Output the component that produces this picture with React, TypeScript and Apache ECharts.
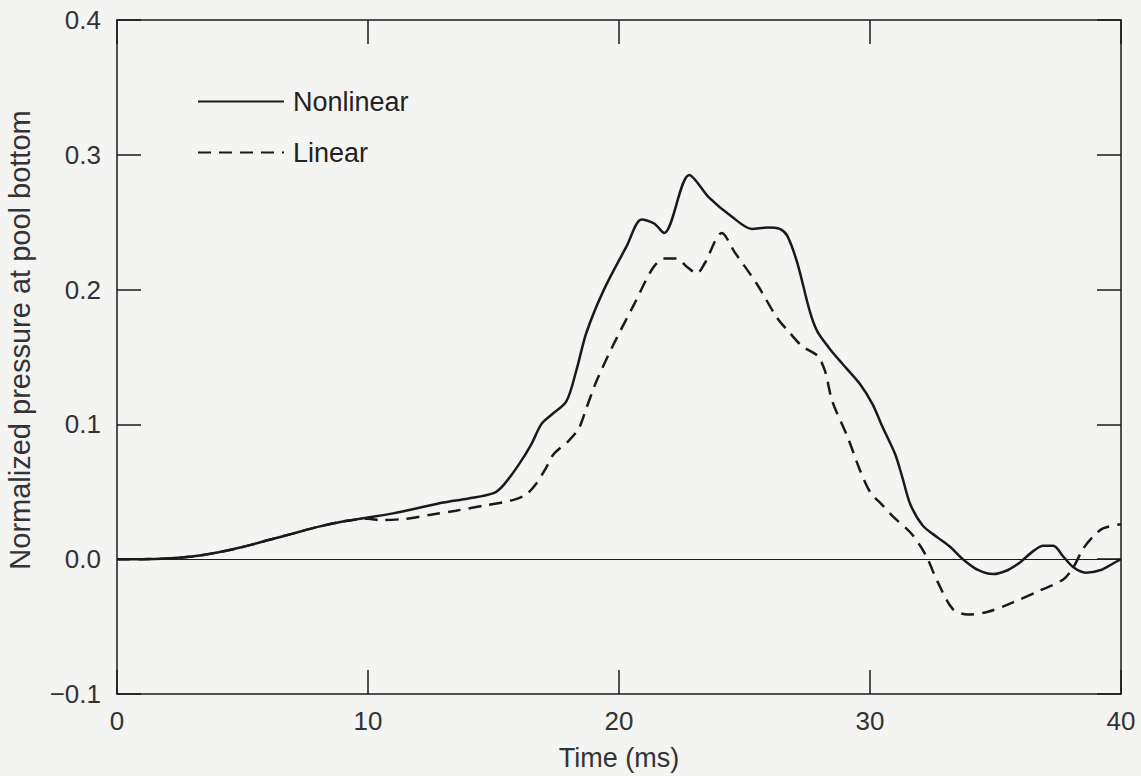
import React, { useEffect, useRef } from "react";
import * as echarts from "echarts";

const nonlinearT = [0, 1, 2, 3, 4, 5, 6, 7, 8, 9, 10, 11, 12, 13, 14, 15, 15.4, 16, 16.5, 16.9, 17.3, 17.9, 18.3, 18.7, 19.4, 20.3, 20.9, 21.4, 21.8, 22.8, 23.6, 24.5, 25.3, 25.9, 26.4, 26.7, 27.1, 27.6, 27.9, 28.4, 28.9, 29.6, 30.1, 30.5, 31.0, 31.3, 31.6, 32.1, 32.7, 33.2, 33.7, 34.3, 34.9, 35.5, 36.0, 36.5, 36.9, 37.3, 37.7, 38.1, 38.6, 39.2, 39.7, 40];
const nonlinearV = [0, 0, 0.0005, 0.002, 0.005, 0.009, 0.014, 0.019, 0.024, 0.028, 0.031, 0.034, 0.038, 0.042, 0.045, 0.049, 0.055, 0.07, 0.085, 0.1, 0.107, 0.117, 0.14, 0.168, 0.2, 0.232, 0.252, 0.249, 0.242, 0.285, 0.268, 0.254, 0.245, 0.246, 0.245, 0.24, 0.22, 0.184, 0.169, 0.156, 0.145, 0.13, 0.115, 0.098, 0.078, 0.06, 0.041, 0.025, 0.016, 0.009, 0.0, -0.008, -0.011, -0.008, -0.002, 0.006, 0.01, 0.01, 0.002, -0.006, -0.01, -0.008, -0.003, 0.0];

const linearT = [0, 1, 2, 3, 4, 5, 6, 7, 8, 9, 10, 10.5, 11.5, 12.5, 13.5, 14.7, 15.8, 16.3, 16.7, 17.1, 17.4, 18.0, 18.4, 18.7, 19.1, 19.8, 20.6, 21.35, 21.8, 22.3, 22.7, 23.1, 23.4, 24.1, 24.6, 25.5, 26.3, 26.8, 27.3, 27.9, 28.2, 28.5, 29.1, 29.6, 30.0, 30.5, 30.9, 31.6, 32.0, 32.3, 32.7, 33.3, 33.9, 34.7, 35.7, 36.8, 37.7, 38.1, 38.5, 38.9, 39.3, 40];
const linearV = [0, 0, 0.0005, 0.002, 0.005, 0.009, 0.014, 0.019, 0.024, 0.028, 0.03, 0.029, 0.03, 0.033, 0.036, 0.04, 0.044, 0.048, 0.056, 0.068, 0.078, 0.088, 0.097, 0.112, 0.132, 0.16, 0.189, 0.216, 0.223, 0.223, 0.217, 0.212, 0.219, 0.242, 0.228, 0.204, 0.179, 0.168, 0.158, 0.151, 0.14, 0.117, 0.091, 0.066, 0.05, 0.04, 0.032, 0.02, 0.01, 0.0, -0.017, -0.037, -0.041, -0.039, -0.032, -0.023, -0.015, -0.006, 0.008, 0.017, 0.023, 0.026];

const xTicks = { min: 0, max: 40, interval: 10 };
const yTicks = { min: -0.1, max: 0.4, interval: 0.1 };

const FONT = "'Liberation Sans', Arial, sans-serif";
const INK = "#1a1a1a";

export default function App() {
  const ref = useRef<HTMLDivElement>(null);
  useEffect(() => {
    document.body.style.margin = "0";
    const chart = echarts.init(ref.current!, null, { renderer: "svg" });
    const axisLine = { show: true, onZero: false, lineStyle: { color: INK, width: 1.5 } };
    const tick = { show: true, inside: true, length: 24, lineStyle: { color: INK, width: 1.5 } };
    const baseX = { type: "value", min: xTicks.min, max: xTicks.max, interval: xTicks.interval, splitLine: { show: false }, axisLine, axisTick: tick };
    const baseY = { type: "value", min: yTicks.min, max: yTicks.max, interval: yTicks.interval, splitLine: { show: false }, axisLine, axisTick: tick };
    chart.setOption({
      animation: false,
      backgroundColor: "#f4f4f3",
      textStyle: { fontFamily: FONT },
      grid: { left: 117, right: 20, top: 20, bottom: 76, containLabel: false },
      legend: {
        data: ["Nonlinear", "Linear"],
        orient: "vertical",
        left: 192,
        top: 83,
        itemWidth: 86,
        itemHeight: 14,
        itemGap: 24,
        itemStyle: { opacity: 0 },
        textStyle: { fontSize: 27, color: "#222", fontFamily: FONT, padding: [0, 0, 0, 4] },
      },
      xAxis: [
        {
          ...baseX,
          position: "bottom",
          axisLabel: { fontSize: 26, color: "#333", margin: 14, fontFamily: FONT },
          name: "Time (ms)",
          nameLocation: "middle",
          nameGap: 50,
          nameTextStyle: { fontSize: 27, color: "#333", fontFamily: FONT },
        },
        { ...baseX, position: "top", axisLabel: { show: false } },
      ],
      yAxis: [
        {
          ...baseY,
          position: "left",
          axisLabel: {
            fontSize: 26,
            color: "#333",
            margin: 16,
            fontFamily: FONT,
            formatter: (v: number) => (v < 0 ? "\u2212" + Math.abs(v).toFixed(1) : v.toFixed(1)),
          },
        },
        { ...baseY, position: "right", axisLabel: { show: false } },
      ],
      graphic: [
        {
          type: "text",
          x: 20,
          y: 340,
          rotation: Math.PI / 2,
          style: {
            text: "Normalized pressure at pool bottom",
            fontSize: 29,
            fontFamily: FONT,
            fill: "#333",
            textAlign: "center",
            textVerticalAlign: "middle",
          },
        },
      ],
      series: [
        {
          name: "Linear",
          type: "line",
          data: linearT.map((t, i) => [t, linearV[i]]),
          showSymbol: false,
          symbol: "none",
          smooth: 0.3,
          lineStyle: { color: INK, width: 2.5, type: [13, 8] },
          itemStyle: { color: INK },
          z: 3,
        },
        {
          name: "Nonlinear",
          type: "line",
          data: nonlinearT.map((t, i) => [t, nonlinearV[i]]),
          showSymbol: false,
          symbol: "none",
          smooth: 0.3,
          lineStyle: { color: INK, width: 2.5, type: "solid" },
          itemStyle: { color: INK },
          z: 4,
          markLine: {
            silent: true,
            symbol: "none",
            label: { show: false },
            lineStyle: { color: INK, width: 1.2, type: "solid" },
            data: [{ yAxis: 0 }],
          },
        },
      ],
    });
    return () => chart.dispose();
  }, []);
  return <div ref={ref} style={{ width: 1141, height: 776 }} />;
}
